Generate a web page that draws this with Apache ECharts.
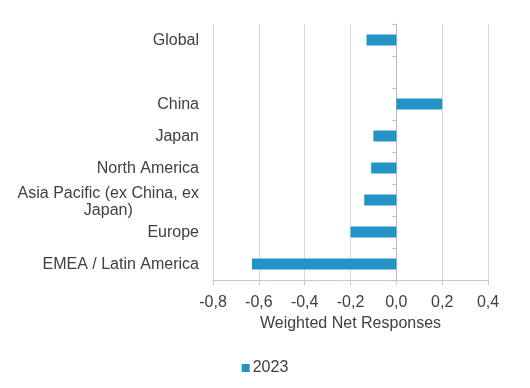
<!DOCTYPE html>
<html>
<head>
<meta charset="utf-8">
<script src="https://cdn.jsdelivr.net/npm/echarts@6/dist/echarts.min.js"></script>
<style>html,body{margin:0;padding:0;background:#fff}#c{width:530px;height:388px}</style>
</head>
<body>
<div id="c"></div>
<script>
var categories = ["Global", "", "China", "Japan", "North America", "Asia Pacific (ex China, ex\nJapan)", "Europe", "EMEA / Latin America"];
var values2023 = [-0.13, null, 0.20, -0.10, -0.11, -0.14, -0.20, -0.63];
var seriesName = "2023";
var axisTitle = "Weighted Net Responses";

var chart = echarts.init(document.getElementById('c'));
var font = 'Liberation Sans, Arial, sans-serif';
chart.setOption({
  animation: false,
  textStyle: {fontFamily: font},
  grid: {left: 213, right: 42, top: 24, bottom: 108, containLabel: false, outerBoundsMode: 'none'},
  xAxis: {
    type: 'value', min: -0.8, max: 0.4, interval: 0.2,
    name: axisTitle, nameLocation: 'middle', nameGap: 34,
    nameTextStyle: {fontSize: 16, color: '#404040', fontFamily: font},
    axisLine: {show: true, lineStyle: {color: '#c4c8d0'}},
    axisTick: {show: true, length: 5, lineStyle: {color: '#c4c8d0'}},
    axisLabel: {fontSize: 16, color: '#404040', margin: 15, fontFamily: font, hideOverlap: false,
      formatter: function (v) { return v.toFixed(1).replace('.', ','); }},
    splitLine: {show: true, lineStyle: {color: '#d9d9d9'}}
  },
  yAxis: {
    type: 'category', data: categories, inverse: true,
    axisLine: {show: true, onZero: true, lineStyle: {color: '#b3bac5'}},
    axisTick: {show: true, length: 4, lineStyle: {color: '#b3bac5'}},
    axisLabel: {fontSize: 16, color: '#404040', margin: 14, fontFamily: font, interval: 0,
      padding: [2, 0, 0, 0],
      formatter: function (v) {
        if (v.indexOf('\n') >= 0) {
          var parts = v.split('\n');
          return '{a|' + parts[0] + '}\n{b|' + parts[1] + '}';
        }
        return v;
      },
      rich: {
        a: {align: 'center', fontSize: 16, color: '#404040', lineHeight: 19, padding: [5, 0, 0, 0], fontFamily: font},
        b: {align: 'center', fontSize: 16, color: '#404040', lineHeight: 19, fontFamily: font}
      }
    },
    splitLine: {show: false}
  },
  legend: {
    bottom: 7, left: 'center', itemWidth: 8, itemHeight: 8, icon: 'rect', itemGap: 4,
    textStyle: {fontSize: 16, color: '#404040', fontFamily: font, padding: [0, 0, 0, -2]},
    data: [seriesName]
  },
  series: [{
    name: seriesName, type: 'bar', data: values2023, barWidth: 11,
    itemStyle: {color: '#2293c6'}
  }]
});
</script>
</body>
</html>
